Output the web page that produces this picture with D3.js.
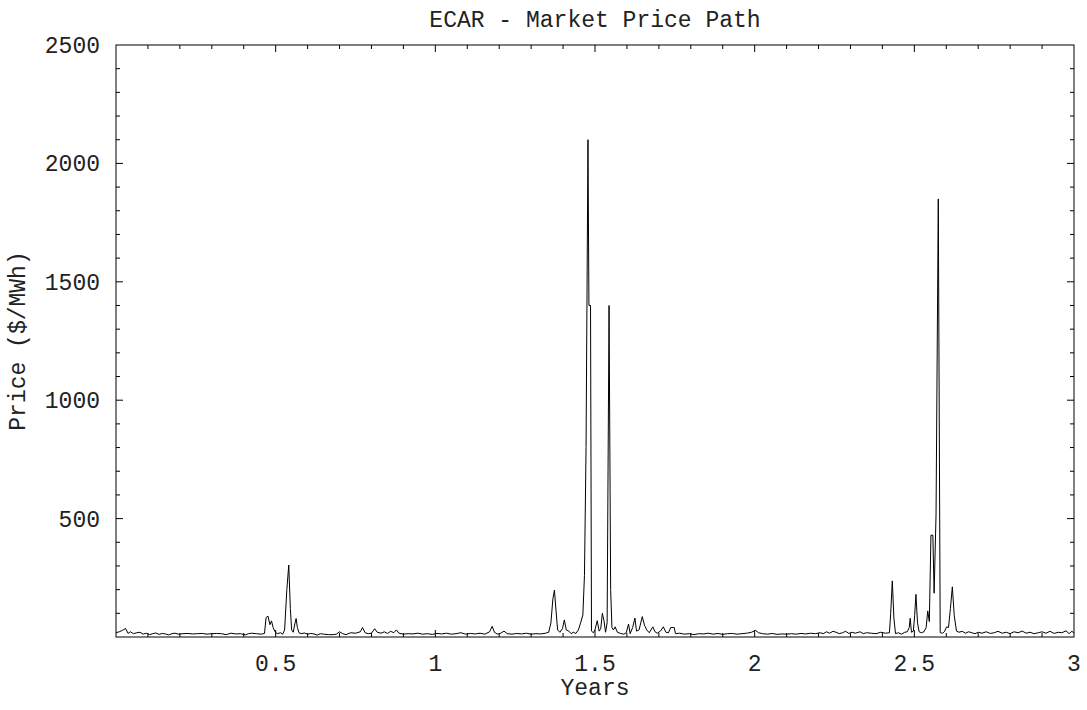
<!DOCTYPE html>
<html>
<head>
<meta charset="utf-8">
<script src="https://d3js.org/d3.v7.min.js"></script>
<style>
  body { margin: 0; background: #fff; }
  text { font-family: "Liberation Mono", "Courier New", monospace; fill: #222; }
</style>
</head>
<body>
<div id="chart"></div>
<script>
// Price path data (years, $/MWh)
var years = [
  0.000, 0.010, 0.020, 0.030, 0.038, 0.045, 0.055, 0.065, 0.075, 0.085,
  0.095, 0.105, 0.115, 0.125, 0.135, 0.145, 0.155, 0.165, 0.175, 0.185,
  0.195, 0.210, 0.225, 0.240, 0.255, 0.270, 0.285, 0.300, 0.315, 0.330,
  0.345, 0.360, 0.375, 0.390, 0.405, 0.415, 0.425, 0.440, 0.455, 0.465,
  0.470, 0.476, 0.482, 0.487, 0.492, 0.498, 0.505, 0.515, 0.522, 0.528,
  0.535, 0.541, 0.546, 0.550, 0.555, 0.560, 0.564, 0.568, 0.573, 0.580,
  0.590, 0.600, 0.610, 0.620, 0.630, 0.640, 0.650, 0.665, 0.680, 0.690,
  0.700, 0.710, 0.720, 0.735, 0.750, 0.765, 0.772, 0.780, 0.790, 0.800,
  0.810, 0.818, 0.830, 0.840, 0.850, 0.860, 0.870, 0.878, 0.886, 0.900,
  0.915, 0.930, 0.945, 0.960, 0.975, 0.990, 1.005, 1.020, 1.035, 1.050,
  1.065, 1.080, 1.095, 1.110, 1.125, 1.140, 1.155, 1.170, 1.178, 1.185,
  1.195, 1.205, 1.215, 1.225, 1.240, 1.255, 1.270, 1.285, 1.300, 1.315,
  1.330, 1.345, 1.355, 1.362, 1.368, 1.373, 1.378, 1.383, 1.390, 1.398,
  1.404, 1.410, 1.418, 1.425, 1.432, 1.440, 1.448, 1.455, 1.462, 1.467,
  1.472, 1.478, 1.481, 1.486, 1.489, 1.495, 1.500, 1.507, 1.513, 1.518,
  1.523, 1.528, 1.533, 1.538, 1.544, 1.549, 1.553, 1.558, 1.563, 1.570,
  1.580, 1.590, 1.598, 1.605, 1.610, 1.618, 1.625, 1.630, 1.638, 1.648,
  1.655, 1.662, 1.670, 1.681, 1.688, 1.695, 1.705, 1.714, 1.722, 1.730,
  1.737, 1.748, 1.752, 1.765, 1.780, 1.795, 1.810, 1.825, 1.840, 1.855,
  1.870, 1.885, 1.900, 1.915, 1.930, 1.945, 1.960, 1.975, 1.990, 2.003,
  2.012, 2.025, 2.040, 2.055, 2.070, 2.085, 2.100, 2.115, 2.130, 2.145,
  2.160, 2.175, 2.190, 2.205, 2.215, 2.225, 2.235, 2.245, 2.255, 2.265,
  2.275, 2.285, 2.295, 2.305, 2.315, 2.330, 2.340, 2.350, 2.365, 2.380,
  2.395, 2.410, 2.422, 2.426, 2.431, 2.436, 2.441, 2.450, 2.460, 2.470,
  2.478, 2.484, 2.487, 2.491, 2.497, 2.501, 2.505, 2.510, 2.515, 2.522,
  2.530, 2.537, 2.542, 2.547, 2.552, 2.558, 2.562, 2.568, 2.575, 2.581,
  2.588, 2.594, 2.601, 2.607, 2.613, 2.619, 2.625, 2.632, 2.640, 2.650,
  2.660, 2.670, 2.680, 2.690, 2.700, 2.712, 2.725, 2.738, 2.750, 2.762,
  2.775, 2.788, 2.800, 2.812, 2.825, 2.838, 2.850, 2.862, 2.875, 2.888,
  2.900, 2.912, 2.925, 2.938, 2.950, 2.962, 2.975, 2.985, 2.993, 3.000
];

var prices = [
  18, 22, 28, 36, 15, 22, 14, 18, 20, 12,
  16, 10, 14, 17, 11, 15, 13, 9, 14, 16,
  12, 14, 15, 13, 14, 15, 12, 14, 15, 14,
  10, 16, 13, 14, 9, 14, 16, 14, 12, 15,
  82, 88, 52, 68, 40, 22, 14, 18, 12, 30,
  200, 304, 120, 30, 20, 55, 78, 40, 18, 14,
  17, 12, 15, 13, 8, 14, 12, 10, 10, 12,
  22, 14, 10, 18, 16, 22, 40, 18, 14, 16,
  35, 20, 16, 22, 15, 24, 18, 30, 16, 12,
  14, 13, 16, 12, 14, 11, 15, 13, 16, 12,
  14, 18, 12, 15, 13, 16, 12, 22, 45, 20,
  12, 16, 25, 14, 12, 15, 13, 16, 12, 14,
  13, 16, 20, 60, 160, 198, 110, 30, 20, 35,
  72, 30, 25, 14, 20, 15, 30, 60, 93, 260,
  800, 2100, 1400, 1400, 25, 18, 30, 69, 25, 35,
  100, 70, 20, 60, 1400, 200, 40, 30, 43, 20,
  15, 12, 18, 55, 14, 40, 80, 25, 30, 86,
  50, 30, 18, 43, 22, 16, 25, 43, 20, 18,
  40, 40, 14, 16, 12, 14, 10, 14, 13, 16,
  12, 15, 11, 14, 15, 12, 14, 16, 20, 28,
  18, 14, 12, 15, 11, 13, 12, 14, 12, 15,
  13, 16, 14, 18, 14, 22, 16, 24, 20, 14,
  18, 24, 15, 20, 16, 22, 14, 18, 16, 14,
  20, 16, 18, 100, 237, 80, 14, 18, 12, 20,
  22, 40, 79, 20, 25, 90, 180, 60, 22, 18,
  22, 40, 110, 65, 430, 430, 185, 520, 1850, 18,
  16, 22, 43, 40, 120, 212, 90, 25, 20, 24,
  16, 22, 18, 14, 20, 16, 22, 15, 18, 24,
  16, 20, 14, 22, 18, 25, 16, 20, 14, 18,
  22, 16, 24, 15, 20, 18, 26, 14, 24, 18
];

var xTickLabels = [0.5, 1, 1.5, 2, 2.5, 3];
var yTickLabels = [500, 1000, 1500, 2000, 2500];

// margins so the frame sits where the reference has it
var margin = {top: 45, right: 13, bottom: 73, left: 116},
    width = 1087 - margin.left - margin.right,
    height = 710 - margin.top - margin.bottom;

var svg = d3.select("#chart")
    .append("svg")
    .attr("width", width + margin.left + margin.right)
    .attr("height", height + margin.top + margin.bottom)
    .append("g")
    .attr("transform", "translate(" + margin.left + "," + margin.top + ")");

var x = d3.scaleLinear().domain([0, 3]).range([0, width]);
var y = d3.scaleLinear().domain([0, 2500]).range([height, 0]);

// minor ticks every 0.1 yr / 100 $, majors where the labels are
var xMinor = d3.range(1, 30).map(function(i) { return i / 10; });
var yMinor = d3.range(1, 25).map(function(i) { return i * 100; });

function isMajorX(v) { return Math.abs(v * 2 - Math.round(v * 2)) < 1e-6; }
function isMajorY(v) { return v % 500 === 0; }

// frame
svg.append("rect")
    .attr("x", 0)
    .attr("y", 0)
    .attr("width", width)
    .attr("height", height)
    .attr("fill", "none")
    .attr("stroke", "#000")
    .attr("stroke-width", 1);

var tickGroup = svg.append("g").attr("stroke", "#000").attr("stroke-width", 1);

// bottom + top ticks
xMinor.forEach(function(v) {
  var len = isMajorX(v) ? 7 : 4;
  tickGroup.append("line")
      .attr("x1", x(v)).attr("x2", x(v))
      .attr("y1", height).attr("y2", height - len);
  tickGroup.append("line")
      .attr("x1", x(v)).attr("x2", x(v))
      .attr("y1", 0).attr("y2", len);
});

// left + right ticks
yMinor.forEach(function(v) {
  var len = isMajorY(v) ? 7 : 4;
  tickGroup.append("line")
      .attr("x1", 0).attr("x2", len)
      .attr("y1", y(v)).attr("y2", y(v));
  tickGroup.append("line")
      .attr("x1", width).attr("x2", width - len)
      .attr("y1", y(v)).attr("y2", y(v));
});

// tick labels
svg.append("g")
    .selectAll("text")
    .data(xTickLabels)
    .enter()
    .append("text")
    .attr("x", function(d) { return x(d); })
    .attr("y", height + 34)
    .attr("font-size", "23px")
    .attr("text-anchor", "middle")
    .text(function(d) { return d; });

svg.append("g")
    .selectAll("text")
    .data(yTickLabels)
    .enter()
    .append("text")
    .attr("x", -16)
    .attr("y", function(d) { return y(d); })
    .attr("dy", "0.35em")
    .attr("font-size", "23px")
    .attr("text-anchor", "end")
    .text(function(d) { return d; });

// the price path
var line = d3.line()
    .x(function(d) { return x(d[0]); })
    .y(function(d) { return y(d[1]); });

svg.append("path")
    .datum(d3.zip(years, prices))
    .attr("fill", "none")
    .attr("stroke", "#000")
    .attr("stroke-width", 1)
    .attr("stroke-linejoin", "miter")
    .attr("d", line);

// title and axis labels
svg.append("text")
    .attr("x", width / 2)
    .attr("y", -18)
    .attr("font-size", "23px")
    .attr("text-anchor", "middle")
    .text("ECAR - Market Price Path");

svg.append("text")
    .attr("x", width / 2)
    .attr("y", height + 58)
    .attr("font-size", "23px")
    .attr("text-anchor", "middle")
    .text("Years");

svg.append("text")
    .attr("transform", "rotate(-90)")
    .attr("x", -height / 2)
    .attr("y", 25 - margin.left)
    .attr("font-size", "23px")
    .attr("text-anchor", "middle")
    .text("Price ($/MWh)");
</script>
</body>
</html>
